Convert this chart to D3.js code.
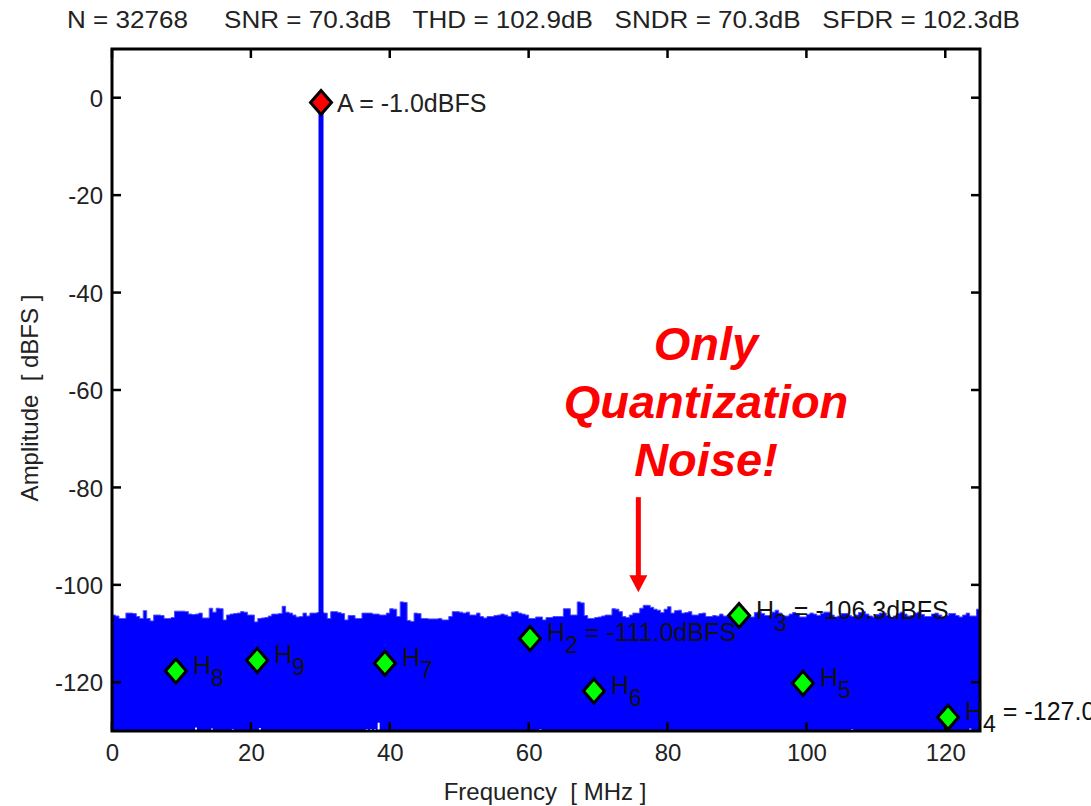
<!DOCTYPE html>
<html><head><meta charset="utf-8">
<script src="https://cdn.jsdelivr.net/npm/d3@7/dist/d3.min.js"></script>
<style>
body{margin:0;background:#fff}
text{font-family:Arial,"Liberation Sans",sans-serif}
</style>
</head><body>
<svg id="chart" width="1091" height="806"></svg>
<script>
// ---------- data ----------
const titleText = "N = 32768     SNR = 70.3dB   THD = 102.9dB   SNDR = 70.3dB   SFDR = 102.3dB";
const xLabel = "Frequency  [ MHz ]";
const yLabel = "Amplitude  [ dBFS ]";
const xTicks = [0, 20, 40, 60, 80, 100, 120];
const yTicks = [0, -20, -40, -60, -80, -100, -120];
const xDomain = [0, 125];
const yDomain = [-130, 10];

// fundamental
const fundFreq = 30.1;
const fundDb = -1.0;
const fundLabel = "A = -1.0dBFS";

// harmonics
const harmOrders = ["2", "3", "4", "5", "6", "7", "8", "9"];
const harmFreqs  = [60.2, 90.3, 120.4, 99.5, 69.4, 39.3, 9.2, 20.9];
const harmDb     = [-111.0, -106.3, -127.2, -120.2, -121.8, -116.1, -117.7, -115.5];
const harmValueText = [" = -111.0dBFS", " = -106.3dBFS", " = -127.0dBFS", "", "", "", "", ""];

// noise floor envelope (dBFS), one value per 0.5 MHz bin
const binStep = 0.5;
const noiseFloor = [
-106.2,-106.4,-106.9,-106.9,-105.8,-105.8,-105.9,-106.5,-106.9,-105.3,
-106.9,-107.4,-106.2,-106.2,-106.3,-106.9,-106.9,-106.7,-105.4,-105.4,
-105.4,-105.5,-106.0,-106.1,-106.0,-105.8,-106.8,-106.8,-104.8,-105.6,
-104.8,-104.9,-107.2,-106.2,-106.0,-105.9,-105.8,-105.5,-105.6,-106.2,
-106.2,-107.6,-106.9,-106.8,-106.7,-106.4,-106.0,-106.0,-105.9,-104.4,
-105.6,-105.8,-106.2,-106.6,-106.5,-105.8,-106.4,-105.8,-105.8,-105.7,
-105.7,-105.8,-106.9,-105.5,-105.5,-105.7,-105.9,-107.2,-106.3,-106.3,
-106.9,-106.9,-105.8,-105.8,-105.8,-106.0,-106.0,-106.2,-106.2,-105.8,
-104.9,-105.0,-106.5,-103.5,-103.6,-107.3,-107.5,-105.8,-105.9,-106.9,
-106.9,-107.0,-107.0,-107.0,-106.9,-107.2,-107.2,-106.5,-105.5,-105.5,
-105.6,-105.8,-105.6,-106.2,-106.2,-105.8,-106.5,-106.8,-106.5,-106.5,
-106.3,-106.2,-106.0,-106.2,-106.5,-105.6,-105.5,-105.8,-106.0,-106.2,
-106.9,-106.9,-106.6,-106.6,-107.2,-106.7,-106.7,-106.5,-106.5,-106.5,
-104.9,-104.9,-106.2,-106.2,-103.5,-103.7,-106.3,-106.9,-106.9,-106.7,
-106.6,-106.4,-106.2,-106.2,-104.9,-105.0,-105.5,-106.5,-106.7,-106.2,
-105.8,-105.8,-104.8,-104.2,-104.2,-104.6,-105.0,-105.2,-105.7,-105.0,
-104.5,-105.8,-105.3,-105.2,-105.8,-105.7,-105.5,-106.2,-106.2,-105.9,
-105.8,-106.5,-106.5,-106.3,-106.4,-106.0,-106.4,-106.4,-105.8,-105.6,
-106.2,-106.0,-105.9,-106.5,-106.6,-105.7,-105.5,-105.9,-106.3,-106.3,
-105.6,-105.2,-105.8,-106.4,-106.4,-106.0,-105.7,-105.9,-106.6,-106.6,
-106.1,-105.8,-106.0,-106.3,-105.9,-105.6,-105.6,-106.2,-106.6,-106.4,
-105.9,-105.9,-106.3,-106.5,-106.2,-105.7,-105.5,-106.0,-106.4,-106.6,
-106.1,-105.8,-105.8,-106.3,-106.7,-106.4,-105.9,-105.6,-106.0,-106.4,
-106.3,-105.8,-105.6,-106.1,-106.5,-106.5,-106.0,-105.8,-106.2,-106.6,
-106.3,-105.9,-105.9,-106.3,-106.6,-106.2,-105.8,-106.4,-106.4,-105.0,
-105.0
];

// deep nulls of the noise that drop below the axis floor
const dipFreqs = [12.1, 14.4, 17.4, 21.3, 36.7, 37.3, 37.9, 38.4, 61.7, 106.6, 123.6];
const dipDb    = [-129.3, -129.5, -129.6, -129.4, -129.6, -129.6, -129.6, -128.3, -129.6, -129.6, -129.5];

// annotation
const noteLines = ["Only", "Quantization", "Noise!"];
const arrowFreq = 75.8;
const arrowFromDb = -82.0;
const arrowToDb = -101.5;

// ---------- drawing ----------
const svg = d3.select("#chart");
const L = 112, R = 980, T = 49, B = 731;
const x = d3.scaleLinear().domain(xDomain).range([L, R]);
const y = d3.scaleLinear().domain(yDomain).range([B, T]);
const BLUE = "#0000ff";
const TXT = "#222";
const FONT = "Arial, 'Liberation Sans', sans-serif";

svg.append("defs").append("clipPath").attr("id", "plotclip")
  .append("rect").attr("x", L).attr("y", T).attr("width", R - L).attr("height", B - T);

const plot = svg.append("g").attr("clip-path", "url(#plotclip)");

// noise floor area
const noiseData = noiseFloor.map((v, i) => ({ f: i * binStep, v }));
const area = d3.area()
  .x(d => x(d.f))
  .y0(y(yDomain[0]))
  .y1(d => y(d.v))
  .curve(d3.curveStepAfter);
plot.append("path").datum(noiseData).attr("d", area).attr("fill", BLUE)
  .attr("stroke", "#4d4dff").attr("stroke-width", 1);

// nulls
plot.selectAll("rect.dip").data(dipFreqs).join("rect").attr("class", "dip")
  .attr("x", d => x(d) - 1)
  .attr("width", 2)
  .attr("y", (d, i) => y(dipDb[i]))
  .attr("height", (d, i) => y(yDomain[0]) - y(dipDb[i]))
  .attr("fill", "#fff");

// fundamental stem
plot.append("line")
  .attr("x1", x(fundFreq)).attr("x2", x(fundFreq))
  .attr("y1", y(fundDb)).attr("y2", y(yDomain[0]))
  .attr("stroke", BLUE).attr("stroke-width", 5);

// frame
svg.append("rect").attr("x", L).attr("y", T).attr("width", R - L).attr("height", B - T)
  .attr("fill", "none").attr("stroke", "#000").attr("stroke-width", 3);

// ticks (inward, on all four sides)
const TL = 9;
const tg = svg.append("g").attr("stroke", "#000").attr("stroke-width", 2.5);
xTicks.forEach(t => {
  tg.append("line").attr("x1", x(t)).attr("x2", x(t)).attr("y1", B).attr("y2", B - TL);
  tg.append("line").attr("x1", x(t)).attr("x2", x(t)).attr("y1", T).attr("y2", T + TL);
});
yTicks.forEach(t => {
  tg.append("line").attr("y1", y(t)).attr("y2", y(t)).attr("x1", L).attr("x2", L + TL);
  tg.append("line").attr("y1", y(t)).attr("y2", y(t)).attr("x1", R).attr("x2", R - TL);
});

// tick labels via d3 axes (plain hyphen minus)
const fmt = d => String(d);
const xAxis = d3.axisBottom(x).tickValues(xTicks).tickSize(0).tickPadding(0).tickFormat(fmt);
const xa = svg.append("g").attr("transform", `translate(0,${B})`).call(xAxis);
xa.select(".domain").remove();
xa.selectAll("text").attr("font-size", 24).attr("fill", TXT).attr("dy", null).attr("y", 30)
  .style("font-family", FONT);

const yAxis = d3.axisLeft(y).tickValues(yTicks).tickSize(0).tickPadding(0).tickFormat(fmt);
const ya = svg.append("g").attr("transform", `translate(${L - 9},0)`).call(yAxis);
ya.select(".domain").remove();
ya.selectAll("text").attr("font-size", 24).attr("fill", TXT).attr("dy", "0.36em")
  .style("font-family", FONT);

// title
svg.append("text").attr("x", 67).attr("y", 28)
  .attr("font-size", 24).attr("fill", TXT)
  .attr("textLength", 953).attr("lengthAdjust", "spacingAndGlyphs")
  .style("white-space", "pre")
  .text(titleText);

// axis labels
svg.append("text").attr("x", 545).attr("y", 800).attr("text-anchor", "middle")
  .attr("font-size", 24).attr("fill", TXT)
  .style("white-space", "pre").text(xLabel);
svg.append("text").attr("transform", "translate(38,398) rotate(-90)").attr("text-anchor", "middle")
  .attr("font-size", 24).attr("fill", TXT)
  .style("white-space", "pre").text(yLabel);

// diamonds
const diamond = (cx, cy) => {
  const w = 10.5, h = 12;
  return `M${cx},${cy - h}L${cx + w},${cy}L${cx},${cy + h}L${cx - w},${cy}Z`;
};
svg.selectAll("path.harm").data(harmFreqs).join("path").attr("class", "harm")
  .attr("d", (d, i) => diamond(x(d), y(harmDb[i])))
  .attr("fill", "#00ff00").attr("stroke", "#000").attr("stroke-width", 3).attr("stroke-linejoin", "miter");
svg.append("path").attr("d", diamond(x(fundFreq), y(fundDb)))
  .attr("fill", "#ff0000").attr("stroke", "#000").attr("stroke-width", 3);

// fundamental label
svg.append("text").attr("x", x(fundFreq) + 16).attr("y", y(fundDb) + 9.5)
  .attr("font-size", 25).attr("fill", TXT).style("white-space", "pre").text(fundLabel);

// harmonic labels
harmFreqs.forEach((f, i) => {
  const t = svg.append("text").attr("x", x(f) + 17).attr("y", y(harmDb[i]) + 3)
    .attr("font-size", 25).attr("fill", "#111").style("white-space", "pre");
  t.append("tspan").text("H");
  t.append("tspan").attr("dy", 12).attr("font-size", 23).text(harmOrders[i]);
  if (harmValueText[i]) t.append("tspan").attr("dy", -12).text(harmValueText[i]);
});

// annotation
const noteX = 706;
svg.selectAll("text.note").data(noteLines).join("text").attr("class", "note")
  .attr("x", noteX).attr("y", (d, i) => 360 + i * 58)
  .attr("text-anchor", "middle").attr("font-size", 47)
  .attr("font-weight", "bold").attr("font-style", "italic")
  .attr("fill", "#ff0000").text(d => d);

const ax = x(arrowFreq);
svg.append("line").attr("x1", ax).attr("x2", ax)
  .attr("y1", y(arrowFromDb)).attr("y2", y(arrowToDb) - 14)
  .attr("stroke", "#ff0000").attr("stroke-width", 5);
svg.append("path")
  .attr("d", `M${ax - 9},${y(arrowToDb) - 17}L${ax + 9},${y(arrowToDb) - 17}L${ax},${y(arrowToDb)}Z`)
  .attr("fill", "#ff0000");
</script>
</body></html>
